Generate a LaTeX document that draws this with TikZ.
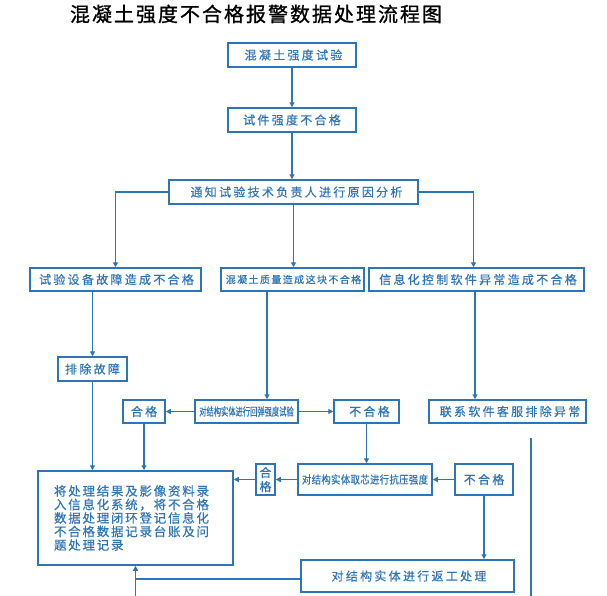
\documentclass[tikz,border=0pt]{standalone}
\usepackage{fontspec}
\usetikzlibrary{arrows.meta,calc}
\newfontfamily\cjk[FakeBold=0.3]{Noto Sans CJK SC}
\newfontfamily\cjktitle[LetterSpace=10,FakeBold=1]{Noto Sans CJK SC}
\newfontfamily\cjkls[LetterSpace=19,FakeBold=0.3]{Noto Sans CJK SC}
\newfontfamily\cjksm[LetterSpace=14,FakeBold=0.3]{Noto Sans CJK SC}
\newfontfamily\cjknar[LetterSpace=4,FakeBold=0.3]{Noto Sans CJK SC}
\definecolor{fblue}{HTML}{2E75B6}
\tikzset{
  box/.style={draw=fblue, line width=1.5pt, inner sep=0pt, text=fblue, font=\cjkls\fontsize{12}{14}\selectfont, fill=white},
  conn/.style={draw=fblue, line width=1.4pt},
  arr/.style={conn, -{Triangle[length=5pt,width=5pt]}},
}
\begin{document}
\begin{tikzpicture}[x=1pt,y=-1pt]
\useasboundingbox[fill=white] (0,0) rectangle (607,595);
\node[font=\cjktitle\fontsize{20}{22}\selectfont, text=black] (title) at (256,14) {混凝土强度不合格报警数据处理流程图};

\node[box, minimum width=128pt, minimum height=24pt] (b1) at (292,55) {\hspace{3pt}混凝土强度试验};
\node[box, minimum width=128pt, minimum height=24pt] (b2) at (292,120) {试件强度不合格};
\node[box, minimum width=249pt, minimum height=24pt] (b3) at (293.5,192) {\hspace{6pt}通知试验技术负责人进行原因分析};
\node[box, minimum width=171pt, minimum height=23pt] (b4) at (115.5,279.5) {\hspace{2pt}试验设备故障造成不合格};
\node[box, minimum width=143pt, minimum height=23pt, font=\cjksm\fontsize{10}{12}\selectfont] (b5) at (292.5,279.5) {\hspace{2pt}混凝土质量造成这块不合格};
\node[box, minimum width=215pt, minimum height=23pt] (b6) at (476.5,279.5) {\hspace{3pt}信息化控制软件异常造成不合格};
\node[box, minimum width=69pt, minimum height=24pt] (b7) at (92.5,369) {排除故障};
\node[box, minimum width=103pt, minimum height=23pt, font=\cjk\fontsize{11}{12}\selectfont] (b8) at (246.5,411.5) {\scalebox{0.66}[1]{对结构实体进行回弹强度试验}};
\node[box, minimum width=42pt, minimum height=23pt] (b9) at (144,411.5) {合格};
\node[box, minimum width=65pt, minimum height=23pt] (b10) at (366.5,411.5) {\hspace{6pt}不合格};
\node[box, minimum width=157pt, minimum height=23pt] (b11) at (507.5,411.5) {\hspace{5pt}联系软件客服排除异常};
\node[box, minimum width=195pt, minimum height=94pt, text width=163pt, align=left, font=\cjksm\fontsize{12.5}{13.5}\selectfont] (big) at (135.5,518) {将处理结果及影像资料录\\入信息化系统，将不合格\\数据处理闭环登记信息化\\不合格数据记录台账及问\\题处理记录};
\node[box, minimum width=19pt, minimum height=31pt, align=center, font=\cjk\fontsize{12}{14}\selectfont] (hg) at (265.5,479.5) {合\\格};
\node[box, minimum width=134pt, minimum height=31pt, font=\cjknar\fontsize{11}{12}\selectfont] (core) at (365,479.5) {\scalebox{0.85}[1]{对结构实体取芯进行抗压强度}};
\node[box, minimum width=58pt, minimum height=31pt] (n2) at (484,479.5) {不合格};
\node[box, minimum width=213pt, minimum height=32pt] (fg) at (407.5,576) {\hspace{3pt}对结构实体进行返工处理};

\coordinate (x5) at (267,0);
\coordinate (x6) at (475,0);
\coordinate (bot1) at (135.5,597);
\coordinate (r1) at (531,438);
\coordinate (r2) at (531,597);

\draw[arr] (b1.south) -- (b2.north);
\draw[arr] (b2.south) -- (b2.south |- b3.north);
\draw[arr] (b3.west) -| (b4.north);
\draw[arr] (b3.east) -| ([xshift=-3pt]b6.north);
\draw[arr] (b3.south) -- (b3.south |- b5.north);
\draw[arr] (b7.north |- b4.south) -- (b7.north);
\draw[arr] (x5 |- b5.south) -- (x5 |- b8.north);
\draw[arr] (b8.west) -- (b9.east);
\draw[arr] (b8.east) -- (b10.west);
\draw[arr] (x6 |- b6.south) -- (x6 |- b11.north);
\draw[arr] (b7.south) -- (b7.south |- big.north);
\draw[arr] (b9.south) -- (b9.south |- big.north);
\draw[arr] (b10.south) -- (b10.south |- core.north);
\draw[arr] (n2.west) -- (core.east);
\draw[arr] (core.west) -- (hg.east);
\draw[arr] (hg.west) -- (hg.west -| big.east);
\draw[arr] (n2.south) -- (n2.south |- fg.north);
\draw[arr] (bot1) -- (big.south);
\draw[conn] ([yshift=-3pt]fg.west) -- ([yshift=-3pt]fg.west -| big.south);
\draw[conn] (r1) -- (r2);
\end{tikzpicture}
\end{document}
